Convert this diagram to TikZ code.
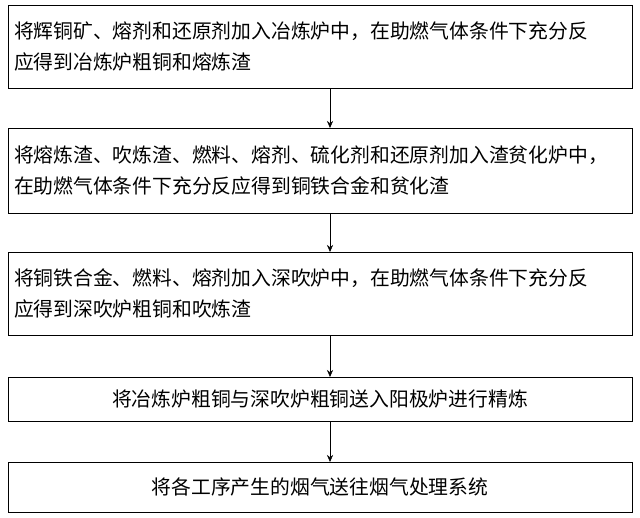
\documentclass[tikz,border=0pt]{standalone}
\usepackage{fontspec}
\newfontfamily\cjk{Noto Sans CJK SC}
\usetikzlibrary{positioning,arrows.meta}
\tikzset{
  stepbox/.style={draw, thin, text width=612pt, inner xsep=6pt, font=\cjk\fontsize{19.8}{31}\selectfont, align=left},
  stepline/.style={draw, thin, text width=612pt, inner xsep=6pt, font=\cjk\fontsize{19.8}{31}\selectfont, align=center},
  flow/.style={-{Stealth[length=7pt,width=6pt]}, thin}
}
\begin{document}
\begin{tikzpicture}[x=1pt,y=-1pt]
\useasboundingbox (0,0) rectangle (640,518);
% steps
\node[stepbox, minimum height=83pt, anchor=north] (s1) at (320,5) {将辉铜矿、熔剂和还原剂加入冶炼炉中，在助燃气体条件下充分反\\应得到冶炼炉粗铜和熔炼渣};
\node[stepbox, minimum height=85pt, anchor=north] (s2) at (320,128) {将熔炼渣、吹炼渣、燃料、熔剂、硫化剂和还原剂加入渣贫化炉中，\\在助燃气体条件下充分反应得到铜铁合金和贫化渣};
\node[stepbox, minimum height=83pt, anchor=north] (s3) at (320,252) {将铜铁合金、燃料、熔剂加入深吹炉中，在助燃气体条件下充分反\\应得到深吹炉粗铜和吹炼渣};
\node[stepline, minimum height=44pt, anchor=north] (s4) at (320,377) {将冶炼炉粗铜与深吹炉粗铜送入阳极炉进行精炼};
\node[stepline, minimum height=50pt, anchor=north] (s5) at (320,462) {将各工序产生的烟气送往烟气处理系统};
% arrows
\draw[flow] (s1.south -| 330,0) -- (s2.north -| 330,0);
\draw[flow] (s2.south -| 330,0) -- (s3.north -| 330,0);
\draw[flow] (s3.south -| 330,0) -- (s4.north -| 330,0);
\draw[flow] (s4.south -| 330,0) -- (s5.north -| 330,0);
\end{tikzpicture}
\end{document}
